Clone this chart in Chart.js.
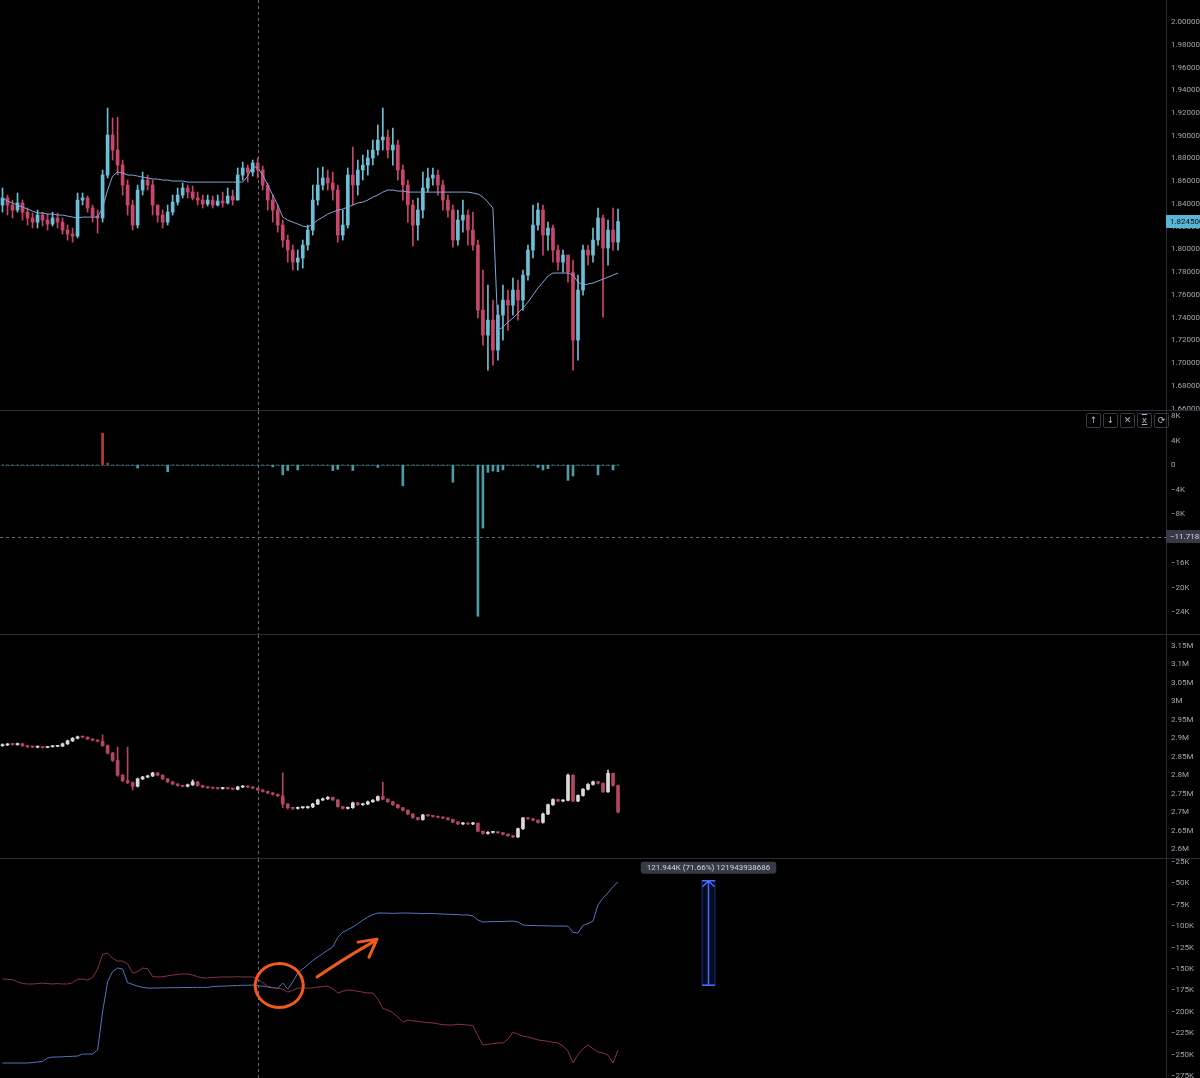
<!DOCTYPE html>
<html>
<head>
<meta charset="utf-8">
<script src="https://cdn.jsdelivr.net/npm/chart.js@4.4.1/dist/chart.umd.min.js"></script>
<style>
  html, body { margin: 0; padding: 0; background: #000; width: 1200px; height: 1078px; overflow: hidden; }
  .pane { position: absolute; left: 0; width: 1200px; }
  .sep { position: absolute; left: 0; width: 1200px; height: 1px; background: #2a2e39; }
  .tools { position: absolute; left: 1086px; top: 413px; display: flex; gap: 2px; }
  .tools div { width: 13px; height: 13px; border: 1px solid #363a45; border-radius: 2px; color: #b2b5be;
               font: 9px/13px 'DejaVu Sans'; text-align: center; }
</style>
</head>
<body>
<div class="pane" style="top:0;height:410px"><canvas id="price"></canvas></div>
<div class="sep" style="top:410px"></div>
<div class="pane" style="top:411px;height:223px"><canvas id="delta"></canvas></div>
<div class="sep" style="top:634px"></div>
<div class="pane" style="top:635px;height:223px"><canvas id="oi"></canvas></div>
<div class="sep" style="top:858px"></div>
<div class="pane" style="top:859px;height:219px"><canvas id="flows"></canvas></div>
<div class="tools"><div>↑</div><div>↓</div><div>✕</div><div style="text-decoration:overline underline">x</div><div>⟳</div></div>
<script>
// ---- pane 1: price candles + vwap
const priceFirstOpen = 1.8390;
const priceClose = [1.8452,1.8390,1.8346,1.8408,1.8328,1.8276,1.8240,1.8302,1.8258,1.8223,1.8276,1.8240,1.8170,1.8135,1.8117,1.8434,1.8452,1.8364,1.8293,1.8276,
  1.8654,1.9006,1.8874,1.8742,1.8566,1.8390,1.8214,1.8522,1.8610,1.8566,1.8390,1.8302,1.8240,1.8328,1.8416,1.8478,1.8540,1.8504,1.8452,1.8434,
  1.8399,1.8434,1.8390,1.8425,1.8408,1.8469,1.8434,1.8654,1.8716,1.8680,1.8760,1.8698,1.8566,1.8434,1.8346,1.8214,1.8082,1.7994,1.7888,1.7924,
  1.8038,1.8170,1.8434,1.8566,1.8628,1.8584,1.8522,1.8126,1.8214,1.8654,1.8566,1.8698,1.8742,1.8804,1.8874,1.8962,1.8988,1.8874,1.8918,1.8698,
  1.8566,1.8390,1.8214,1.8346,1.8540,1.8628,1.8654,1.8566,1.8434,1.8346,1.8082,1.8258,1.8302,1.8170,1.8038,1.7466,1.7246,1.7378,1.7114,1.7422,
  1.7554,1.7510,1.7642,1.7554,1.7774,1.7994,1.8214,1.8346,1.8126,1.8188,1.7994,1.7888,1.7950,1.7800,1.7202,1.7642,1.7994,1.7950,1.8082,1.8276,
  1.8012,1.8170,1.8064,1.8245];
const priceHigh = [1.8540,1.8478,1.8434,1.8496,1.8434,1.8364,1.8320,1.8346,1.8328,1.8311,1.8328,1.8320,1.8276,1.8214,1.8188,1.8496,1.8496,1.8469,1.8390,1.8346,
  1.8698,1.9244,1.9156,1.9164,1.8786,1.8610,1.8434,1.8566,1.8680,1.8654,1.8610,1.8390,1.8346,1.8390,1.8478,1.8540,1.8584,1.8566,1.8557,1.8504,
  1.8478,1.8478,1.8469,1.8478,1.8504,1.8540,1.8522,1.8716,1.8768,1.8742,1.8786,1.8804,1.8733,1.8584,1.8478,1.8390,1.8258,1.8126,1.8038,1.7994,
  1.8082,1.8214,1.8566,1.8716,1.8724,1.8698,1.8680,1.8566,1.8346,1.8716,1.8900,1.8786,1.8830,1.8874,1.8962,1.9094,1.9244,1.9050,1.9068,1.8962,
  1.8742,1.8610,1.8434,1.8452,1.8680,1.8716,1.8716,1.8698,1.8610,1.8478,1.8390,1.8346,1.8434,1.8346,1.8328,1.8082,1.7818,1.7686,1.7554,1.7510,
  1.7686,1.7642,1.7748,1.7730,1.7818,1.8038,1.8390,1.8408,1.8390,1.8240,1.8214,1.8038,1.7994,1.7950,1.7906,1.7774,1.8038,1.8038,1.8188,1.8364,
  1.8302,1.8258,1.8364,1.8355];
const priceLow = [1.8328,1.8302,1.8276,1.8328,1.8258,1.8214,1.8188,1.8188,1.8205,1.8170,1.8205,1.8188,1.8135,1.8082,1.8064,1.8100,1.8390,1.8328,1.8240,1.8144,
  1.8240,1.8628,1.8786,1.8654,1.8478,1.8302,1.8170,1.8188,1.8478,1.8522,1.8302,1.8240,1.8188,1.8214,1.8302,1.8390,1.8452,1.8452,1.8434,1.8390,
  1.8364,1.8381,1.8364,1.8381,1.8372,1.8399,1.8390,1.8434,1.8610,1.8592,1.8645,1.8628,1.8522,1.8346,1.8240,1.8152,1.8020,1.7888,1.7818,1.7818,
  1.7836,1.7994,1.8126,1.8390,1.8522,1.8522,1.8434,1.8064,1.8082,1.8188,1.8390,1.8478,1.8610,1.8654,1.8742,1.8830,1.8874,1.8804,1.8742,1.8610,
  1.8434,1.8240,1.8029,1.8082,1.8276,1.8504,1.8566,1.8478,1.8346,1.8284,1.8020,1.8038,1.8152,1.8038,1.7994,1.7396,1.7158,1.6938,1.6982,1.7026,
  1.7202,1.7290,1.7422,1.7378,1.7466,1.7730,1.7924,1.8170,1.7950,1.7994,1.7888,1.7818,1.7800,1.7712,1.6938,1.7026,1.7598,1.7862,1.7888,1.8038,
  1.7404,1.7862,1.7994,1.7994];
const vwap = [1.8452,1.8425,1.8408,1.8390,1.8372,1.8355,1.8337,1.8320,1.8320,1.8311,1.8311,1.8302,1.8302,1.8293,1.8284,1.8276,1.8284,1.8284,1.8284,1.8284,
  1.8364,1.8522,1.8645,1.8680,1.8672,1.8654,1.8654,1.8645,1.8636,1.8628,1.8619,1.8619,1.8610,1.8610,1.8601,1.8601,1.8601,1.8592,1.8592,1.8592,
  1.8592,1.8592,1.8592,1.8592,1.8592,1.8592,1.8592,1.8592,1.8592,1.8645,1.8733,1.8716,1.8654,1.8566,1.8478,1.8390,1.8284,1.8258,1.8240,1.8223,
  1.8205,1.8196,1.8223,1.8258,1.8284,1.8311,1.8328,1.8346,1.8355,1.8372,1.8390,1.8408,1.8416,1.8434,1.8460,1.8478,1.8504,1.8522,1.8522,1.8513,
  1.8513,1.8504,1.8504,1.8504,1.8504,1.8504,1.8504,1.8504,1.8504,1.8504,1.8504,1.8504,1.8504,1.8504,1.8496,1.8487,1.8460,1.8416,1.8364,1.7290,
  1.7316,1.7360,1.7396,1.7440,1.7484,1.7536,1.7598,1.7660,1.7712,1.7765,1.7792,1.7792,1.7792,1.7792,1.7774,1.7712,1.7686,1.7695,1.7704,1.7721,
  1.7739,1.7756,1.7774,1.7792];
const priceTicks = [2.00,1.98,1.96,1.94,1.92,1.90,1.88,1.86,1.84,1.82,1.80,1.78,1.76,1.74,1.72,1.70,1.68,1.66];

// ---- pane 2: delta histogram
const delta = [0,0,0,0,0,0,0,0,0,0,0,0,0,0,0,0,0,0,0,0,
  5200,300,0,0,0,0,0,-500,0,0,0,0,0,-1100,0,0,0,0,0,0,
  0,0,0,0,0,0,0,0,0,0,0,0,0,0,-300,0,-1600,-900,0,-800,
  0,0,0,0,0,0,-900,-700,0,0,-900,0,0,0,0,-400,0,0,0,0,
  -3400,0,0,0,0,0,0,0,0,0,-2800,0,0,0,0,-24700,-10300,-1200,-1000,-1100,
  -800,0,0,0,0,0,0,-400,-800,-600,0,0,0,-2500,-1800,0,0,0,0,-1600,
  0,0,-800,0];
const deltaTicks = [8000,4000,0,-4000,-8000,-12000,-16000,-20000,-24000];
const deltaCursor = -11718;

// ---- pane 3: open interest candles (millions)
const oiFirstOpen = 2.880;
const oiClose = [2.882,2.884,2.883,2.885,2.880,2.877,2.876,2.877,2.875,2.877,2.878,2.879,2.885,2.893,2.900,2.904,2.903,2.898,2.895,2.892,
  2.880,2.860,2.840,2.800,2.785,2.780,2.770,2.790,2.795,2.798,2.806,2.800,2.790,2.782,2.776,2.772,2.770,2.774,2.782,2.772,
  2.768,2.766,2.765,2.764,2.765,2.764,2.762,2.768,2.770,2.768,2.765,2.760,2.756,2.752,2.748,2.744,2.722,2.712,2.710,2.712,
  2.712,2.714,2.722,2.733,2.736,2.740,2.733,2.715,2.710,2.712,2.725,2.720,2.722,2.728,2.732,2.742,2.735,2.728,2.720,2.712,
  2.705,2.695,2.685,2.680,2.692,2.690,2.688,2.686,2.684,2.680,2.673,2.668,2.670,2.668,2.670,2.648,2.642,2.645,2.646,2.644,
  2.640,2.636,2.633,2.655,2.684,2.682,2.678,2.672,2.695,2.720,2.734,2.730,2.732,2.800,2.730,2.745,2.762,2.775,2.782,2.778,
  2.755,2.805,2.772,2.700];
const oiHigh = [2.885,2.886,2.886,2.887,2.886,2.881,2.879,2.879,2.878,2.878,2.880,2.881,2.887,2.895,2.902,2.906,2.906,2.904,2.899,2.896,
  2.909,2.882,2.862,2.876,2.802,2.876,2.782,2.792,2.797,2.800,2.808,2.807,2.801,2.791,2.783,2.777,2.773,2.776,2.787,2.783,
  2.773,2.769,2.767,2.766,2.767,2.766,2.765,2.770,2.772,2.771,2.769,2.766,2.761,2.757,2.753,2.749,2.806,2.723,2.713,2.714,
  2.714,2.716,2.724,2.735,2.738,2.742,2.741,2.734,2.716,2.714,2.727,2.726,2.724,2.730,2.734,2.744,2.781,2.736,2.729,2.721,
  2.713,2.706,2.696,2.686,2.694,2.693,2.691,2.689,2.687,2.685,2.681,2.674,2.672,2.671,2.672,2.671,2.649,2.647,2.648,2.647,
  2.645,2.641,2.637,2.657,2.686,2.685,2.683,2.679,2.697,2.722,2.736,2.735,2.734,2.803,2.801,2.747,2.764,2.777,2.784,2.783,
  2.779,2.814,2.806,2.774];
const oiLow = [2.878,2.880,2.881,2.881,2.878,2.875,2.874,2.874,2.873,2.874,2.876,2.877,2.877,2.883,2.891,2.898,2.901,2.896,2.893,2.890,
  2.878,2.857,2.837,2.797,2.782,2.777,2.760,2.768,2.788,2.793,2.796,2.798,2.788,2.780,2.774,2.770,2.768,2.768,2.772,2.770,
  2.766,2.764,2.763,2.762,2.762,2.762,2.760,2.760,2.766,2.766,2.763,2.758,2.754,2.750,2.746,2.742,2.712,2.708,2.707,2.708,
  2.710,2.710,2.712,2.720,2.731,2.734,2.731,2.713,2.708,2.708,2.710,2.718,2.718,2.720,2.726,2.730,2.733,2.726,2.718,2.710,
  2.703,2.693,2.683,2.678,2.678,2.688,2.686,2.684,2.682,2.678,2.671,2.666,2.666,2.666,2.666,2.646,2.640,2.640,2.643,2.642,
  2.638,2.634,2.631,2.631,2.653,2.680,2.676,2.670,2.670,2.693,2.718,2.728,2.728,2.730,2.728,2.728,2.743,2.760,2.773,2.776,
  2.753,2.753,2.770,2.698];
const oiTicks = [3.15,3.10,3.05,3.00,2.95,2.90,2.85,2.80,2.75,2.70,2.65,2.60];

// ---- pane 4: two cumulative lines (thousands)
const flowBlue = [-259.8,-259.8,-259.8,-259.8,-259.8,-259.8,-259.3,-258.6,-258.0,-254.0,-252.8,-252.8,-252.5,-252.2,-252.0,-251.6,-249.3,-249.3,-249.3,-244.6,
  -200.0,-165.0,-153.0,-148.8,-150.0,-166.0,-168.0,-170.0,-171.5,-172.2,-172.2,-172.2,-172.0,-172.0,-171.8,-171.8,-171.6,-171.6,-171.5,-171.5,
  -171.5,-171.5,-170.5,-170.2,-170.0,-169.8,-169.5,-169.3,-169.0,-169.0,-168.7,-169.5,-170.0,-171.0,-172.0,-172.5,-166.4,-173.4,-165.0,-155.0,
  -150.0,-145.0,-140.0,-136.0,-132.0,-128.0,-124.3,-113.0,-107.0,-104.0,-101.0,-97.0,-93.0,-89.3,-86.5,-84.6,-84.6,-84.8,-85.0,-84.8,
  -84.6,-84.6,-84.8,-85.0,-85.2,-85.0,-85.2,-85.5,-85.8,-86.0,-86.2,-86.5,-86.9,-86.9,-88.0,-92.8,-95.1,-94.8,-94.5,-94.5,
  -94.5,-94.2,-94.0,-95.0,-98.6,-99.0,-99.2,-99.4,-99.5,-99.6,-99.8,-99.8,-99.8,-100.0,-107.0,-108.0,-99.0,-97.0,-94.0,-75.0,
  -67.0,-61.0,-54.0,-48.0];
const flowRed = [-161.7,-162.0,-162.5,-165.0,-167.0,-167.5,-167.5,-167.0,-166.5,-167.0,-167.5,-167.0,-167.5,-167.5,-166.0,-162.0,-161.7,-163.0,-160.0,-150.0,
  -133.0,-131.3,-137.5,-140.7,-140.7,-144.0,-155.0,-153.0,-149.0,-149.5,-159.0,-159.3,-159.0,-158.0,-157.0,-156.5,-155.8,-155.8,-157.0,-159.0,
  -160.5,-160.5,-160.0,-159.5,-159.3,-159.3,-159.3,-159.0,-159.3,-159.3,-159.3,-162.0,-166.0,-170.0,-171.5,-172.5,-173.4,-176.9,-175.0,-172.2,
  -172.2,-172.5,-172.0,-171.0,-170.5,-169.9,-173.0,-178.0,-176.0,-174.6,-175.0,-176.0,-177.0,-178.0,-178.0,-185.0,-196.0,-198.0,-201.0,-206.0,
  -211.9,-209.6,-210.5,-211.0,-212.0,-212.5,-213.0,-214.0,-215.0,-215.4,-215.4,-214.5,-215.0,-215.4,-216.0,-228.0,-238.8,-238.0,-237.0,-236.4,
  -236.4,-232.0,-224.0,-226.0,-228.5,-229.4,-231.0,-232.9,-233.5,-234.5,-235.5,-236.4,-240.0,-246.0,-259.8,-250.0,-243.0,-238.8,-243.0,-247.0,
  -248.0,-250.5,-259.8,-244.6];
const flowTicks = [-25,-50,-75,-100,-125,-150,-175,-200,-225,-250,-275];
const measureIndex = 141;
const measureFrom = -168.9;
const measureTo = -46.956;
const measureText = '121.944K (71.66%) 121943938686';

const SLOTS = 233;          // bars that fit across the plot width
const crossIndex = 51;      // vertical crosshair position
const slotLabels = Array.from({ length: SLOTS }, (_, i) => i);

const FONT = 'Roboto';
const crossColor = '#6a6d78';

function baseOptions(min, max, ticks, fmt) {
  return {
    responsive: true,
    maintainAspectRatio: false,
    animation: false,
    layout: { padding: 0 },
    plugins: { legend: { display: false }, tooltip: { enabled: false } },
    scales: {
      x: { display: false, offset: true, grid: { display: false } },
      y: {
        position: 'right', min: min, max: max,
        grid: { display: false, drawTicks: false },
        border: { display: true, color: '#2a2e39' },
        afterBuildTicks: s => { s.ticks = ticks.map(v => ({ value: v })); },
        afterFit: s => { s.width = 34; s.paddingTop = 0; s.paddingBottom = 0; },
        ticks: { autoSkip: false, padding: 5, color: '#a3a6af', font: { family: FONT, size: 8 }, callback: v => fmt(v) }
      }
    }
  };
}

function candleSets(firstOpen, close, high, low, up, down) {
  const open = [firstOpen, ...close.slice(0, -1)];
  const colors = close.map((c, i) => (c >= open[i] ? up : down));
  return [
    { type: 'bar', data: low.map((l, i) => [l, high[i]]), backgroundColor: colors, barThickness: 1, grouped: false, order: 2 },
    { type: 'bar', data: open.map((o, i) => [o, close[i]]), backgroundColor: colors, barThickness: 3, minBarLength: 1, grouped: false, order: 1 }
  ];
}

const crosshair = {
  id: 'crosshair',
  afterDraw(chart) {
    const ctx = chart.ctx;
    const x = Math.round(chart.scales.x.getPixelForValue(crossIndex)) + 0.5;
    ctx.save();
    ctx.strokeStyle = crossColor;
    ctx.lineWidth = 1;
    ctx.setLineDash([3, 3]);
    ctx.beginPath();
    ctx.moveTo(x, 0);
    ctx.lineTo(x, chart.height);
    ctx.stroke();
    ctx.restore();
  }
};

function axisTag(chart, value, text, bg, fg) {
  const ctx = chart.ctx;
  const y = chart.scales.y.getPixelForValue(value);
  const left = chart.chartArea.right;
  ctx.save();
  ctx.fillStyle = bg;
  ctx.fillRect(left, Math.round(y - 6.5), chart.width - left, 13);
  ctx.fillStyle = fg;
  ctx.font = '8px ' + FONT;
  ctx.textBaseline = 'middle';
  ctx.fillText(text, left + 4, y);
  ctx.restore();
}

// pane 1
new Chart(document.getElementById('price'), {
  type: 'bar',
  data: {
    labels: slotLabels,
    datasets: [
      ...candleSets(priceFirstOpen, priceClose, priceHigh, priceLow, '#6cbfd4', '#c8466a'),
      { type: 'line', data: vwap, borderColor: '#7fa6d8', borderWidth: 1, pointRadius: 0, order: 0 }
    ]
  },
  options: baseOptions(1.6587, 2.0194, priceTicks, v => v.toFixed(6)),
  plugins: [crosshair, {
    id: 'lastPrice',
    afterDraw(chart) {
      const last = priceClose[priceClose.length - 1];
      axisTag(chart, last, last.toFixed(6), '#56b6d6', '#0b0e14');
    }
  }]
});

// pane 2
const kFmt = v => (v === 0 ? '0' : (v < 0 ? '−' : '') + Math.abs(v / 1000) + 'K');
new Chart(document.getElementById('delta'), {
  type: 'bar',
  data: {
    labels: slotLabels,
    datasets: [{
      data: delta,
      backgroundColor: delta.map(v => (v > 0 ? '#b0402c' : '#4c9aa3')),
      barThickness: 2
    }]
  },
  options: baseOptions(-27590, 8820, deltaTicks, kFmt),
  plugins: [{
    id: 'zeroLine',
    beforeDatasetsDraw(chart) {
      const ctx = chart.ctx;
      const y = Math.round(chart.scales.y.getPixelForValue(0)) + 0.5;
      ctx.save();
      ctx.strokeStyle = '#4c9aa3';
      ctx.setLineDash([1, 2]);
      ctx.beginPath();
      ctx.moveTo(chart.scales.x.getPixelForValue(0), y);
      ctx.lineTo(chart.scales.x.getPixelForValue(delta.length - 1), y);
      ctx.stroke();
      ctx.restore();
    }
  }, crosshair, {
    id: 'hCursor',
    afterDraw(chart) {
      const ctx = chart.ctx;
      const y = Math.round(chart.scales.y.getPixelForValue(deltaCursor)) + 0.5;
      ctx.save();
      ctx.strokeStyle = crossColor;
      ctx.setLineDash([3, 3]);
      ctx.beginPath();
      ctx.moveTo(0, y);
      ctx.lineTo(chart.chartArea.right, y);
      ctx.stroke();
      ctx.restore();
      axisTag(chart, deltaCursor, '−' + (Math.abs(deltaCursor) / 1000).toFixed(3) + 'K', '#363a45', '#d1d4dc');
    }
  }]
});

// pane 3
new Chart(document.getElementById('oi'), {
  type: 'bar',
  data: { labels: slotLabels, datasets: candleSets(oiFirstOpen, oiClose, oiHigh, oiLow, '#d9d9d9', '#b3475f') },
  options: baseOptions(2.5756, 3.1798, oiTicks, v => parseFloat(v.toFixed(2)) + 'M'),
  plugins: [crosshair]
});

// pane 4
new Chart(document.getElementById('flows'), {
  type: 'bar',
  data: {
    labels: slotLabels,
    datasets: [
      { type: 'line', data: flowRed, borderColor: '#8c3344', borderWidth: 1, pointRadius: 0 },
      { type: 'line', data: flowBlue, borderColor: '#4f78c0', borderWidth: 1, pointRadius: 0 }
    ]
  },
  options: baseOptions(-277.3, -21.5, flowTicks, v => '−' + Math.abs(v) + 'K'),
  plugins: [crosshair, {
    id: 'drawings',
    afterDraw(chart) {
      const ctx = chart.ctx;
      const xs = chart.scales.x, ys = chart.scales.y;
      const px = i => xs.getPixelForValue(i);
      const py = v => ys.getPixelForValue(v);

      // measure arrow
      const mx = Math.round(px(measureIndex)) + 0.5;
      const top = py(measureTo), bot = py(measureFrom);
      ctx.save();
      ctx.fillStyle = 'rgba(41, 98, 255, 0.12)';
      ctx.fillRect(mx - 6.5, top, 13, bot - top);
      ctx.strokeStyle = 'rgba(70, 100, 255, 0.45)';
      ctx.lineWidth = 1;
      ctx.strokeRect(mx - 6.5, top, 13, bot - top);
      ctx.strokeStyle = '#4a6cff';
      ctx.lineWidth = 1.5;
      ctx.beginPath();
      ctx.moveTo(mx, top); ctx.lineTo(mx, bot);
      ctx.moveTo(mx - 6.5, top); ctx.lineTo(mx + 6.5, top);
      ctx.moveTo(mx - 6.5, bot); ctx.lineTo(mx + 6.5, bot);
      ctx.moveTo(mx - 6, top + 6); ctx.lineTo(mx, top); ctx.lineTo(mx + 6, top + 6);
      ctx.stroke();

      ctx.font = '8px ' + FONT;
      const tw = ctx.measureText(measureText).width;
      const bw = tw + 12, bh = 12;
      const bx = mx - bw / 2, by = top - 7 - bh;
      ctx.fillStyle = '#363a45';
      ctx.beginPath();
      ctx.roundRect(bx, by, bw, bh, 3);
      ctx.fill();
      ctx.fillStyle = '#d1d4dc';
      ctx.textBaseline = 'middle';
      ctx.textAlign = 'center';
      ctx.fillText(measureText, mx, by + bh / 2 + 0.5);

      // hand-drawn orange circle and arrow
      ctx.strokeStyle = '#f05a1e';
      ctx.lineWidth = 3;
      ctx.lineCap = 'round';
      ctx.lineJoin = 'round';
      ctx.beginPath();
      ctx.ellipse(px(55.3), py(-169.3), 24, 22, 0, -1.25, -1.25 + Math.PI * 2 + 0.45);
      ctx.stroke();
      ctx.beginPath();
      ctx.moveTo(px(62.85), py(-159.3));
      ctx.quadraticCurveTo(px(68.4), py(-137.1), px(74.6), py(-116.5));
      ctx.stroke();
      ctx.beginPath();
      ctx.moveTo(px(71.04), py(-118.6));
      ctx.lineTo(px(74.84), py(-115.1));
      ctx.lineTo(px(73.24), py(-136.1));
      ctx.stroke();
      ctx.restore();
    }
  }]
});
</script>
</body>
</html>
